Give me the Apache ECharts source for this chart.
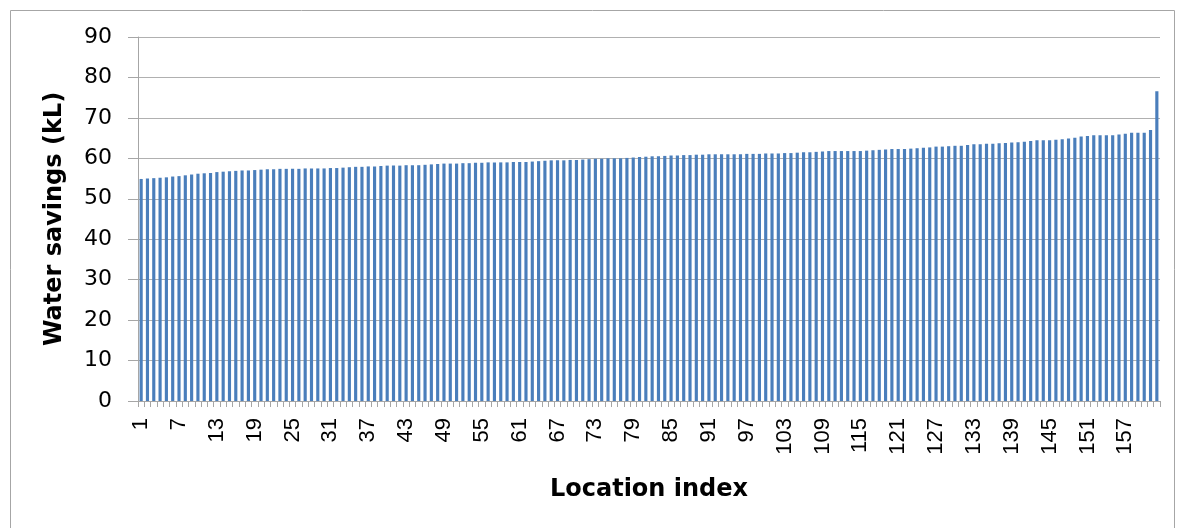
<!DOCTYPE html>
<html><head><meta charset="utf-8">
<script src="https://cdn.jsdelivr.net/npm/echarts@6/dist/echarts.min.js"></script>
<style>html,body{margin:0;padding:0;background:#fff}#c{width:1182px;height:528px}</style>
</head><body><div id="c"></div>
<script>
const waterSavings = [
  54.9, 55.0, 55.1, 55.2, 55.3, 55.5, 55.6, 55.8, 56.0, 56.2,
  56.3, 56.4, 56.6, 56.7, 56.8, 56.9, 57.0, 57.0, 57.1, 57.2,
  57.3, 57.3, 57.4, 57.4, 57.4, 57.4, 57.5, 57.5, 57.5, 57.5,
  57.6, 57.6, 57.7, 57.8, 57.9, 57.9, 58.0, 58.0, 58.1, 58.2,
  58.2, 58.2, 58.3, 58.3, 58.3, 58.4, 58.5, 58.6, 58.7, 58.7,
  58.7, 58.8, 58.8, 58.9, 58.9, 59.0, 59.0, 59.0, 59.0, 59.1,
  59.1, 59.1, 59.2, 59.3, 59.4, 59.5, 59.5, 59.5, 59.6, 59.6,
  59.7, 59.8, 59.9, 59.9, 60.0, 60.0, 60.0, 60.1, 60.2, 60.3,
  60.4, 60.5, 60.5, 60.6, 60.7, 60.7, 60.8, 60.8, 60.9, 60.9,
  61.0, 61.0, 61.0, 61.0, 61.0, 61.0, 61.1, 61.1, 61.1, 61.2,
  61.2, 61.2, 61.3, 61.3, 61.4, 61.5, 61.5, 61.6, 61.7, 61.8,
  61.8, 61.8, 61.8, 61.8, 61.8, 61.9, 62.0, 62.1, 62.2, 62.3,
  62.3, 62.3, 62.4, 62.5, 62.6, 62.7, 62.9, 62.9, 63.0, 63.1,
  63.1, 63.3, 63.5, 63.5, 63.6, 63.6, 63.7, 63.8, 63.9, 64.0,
  64.1, 64.3, 64.5, 64.5, 64.5, 64.6, 64.7, 64.9, 65.1, 65.4,
  65.5, 65.7, 65.7, 65.7, 65.7, 65.9, 66.1, 66.3, 66.3, 66.3,
  67.0, 76.6
];
const locationIndex = waterSavings.map((_, i) => String(i + 1));
const yAxisTitle = 'Water savings (kL)';
const xAxisTitle = 'Location index';

const chart = echarts.init(document.getElementById('c'), null, {renderer: 'canvas'});
chart.setOption({
  animation: false,
  backgroundColor: '#ffffff',
  graphic: [{
    type: 'rect', z: -10, silent: true,
    shape: {x: 10.5, y: 10.5, width: 1164, height: 540},
    style: {fill: 'none', stroke: '#a6a6a6', lineWidth: 1}
  }],
  grid: {left: 138, right: 22, top: 37, bottom: 127, containLabel: false},
  xAxis: {
    type: 'category',
    data: locationIndex,
    name: xAxisTitle,
    nameLocation: 'middle',
    nameGap: 77,
    nameTextStyle: {fontFamily: 'DejaVu Sans', fontWeight: 'bold', fontSize: 24, color: '#000'},
    axisLine: {lineStyle: {color: '#a6a6a6', width: 1}},
    axisTick: {show: true, interval: 0, length: 6, lineStyle: {color: '#a6a6a6'}},
    axisLabel: {interval: 5, rotate: 90, margin: 17, fontFamily: 'Liberation Sans', fontSize: 22, color: '#000'},
    splitLine: {show: false}
  },
  yAxis: {
    type: 'value',
    min: 0, max: 90, interval: 10,
    name: yAxisTitle,
    nameLocation: 'middle',
    nameGap: 71,
    nameRotate: 90,
    nameTextStyle: {fontFamily: 'DejaVu Sans', fontWeight: 'bold', fontSize: 24, color: '#000'},
    axisLine: {show: true, lineStyle: {color: '#a6a6a6', width: 1}},
    axisTick: {show: true, length: 10, lineStyle: {color: '#a6a6a6'}},
    axisLabel: {margin: 26, fontFamily: 'DejaVu Sans', fontSize: 22, color: '#000'},
    splitLine: {show: true, lineStyle: {color: '#b0b0b0', width: 1}}
  },
  series: [{
    type: 'bar',
    data: waterSavings,
    barCategoryGap: '50%',
    itemStyle: {color: '#4a7ebb'}
  }]
});
</script></body></html>
